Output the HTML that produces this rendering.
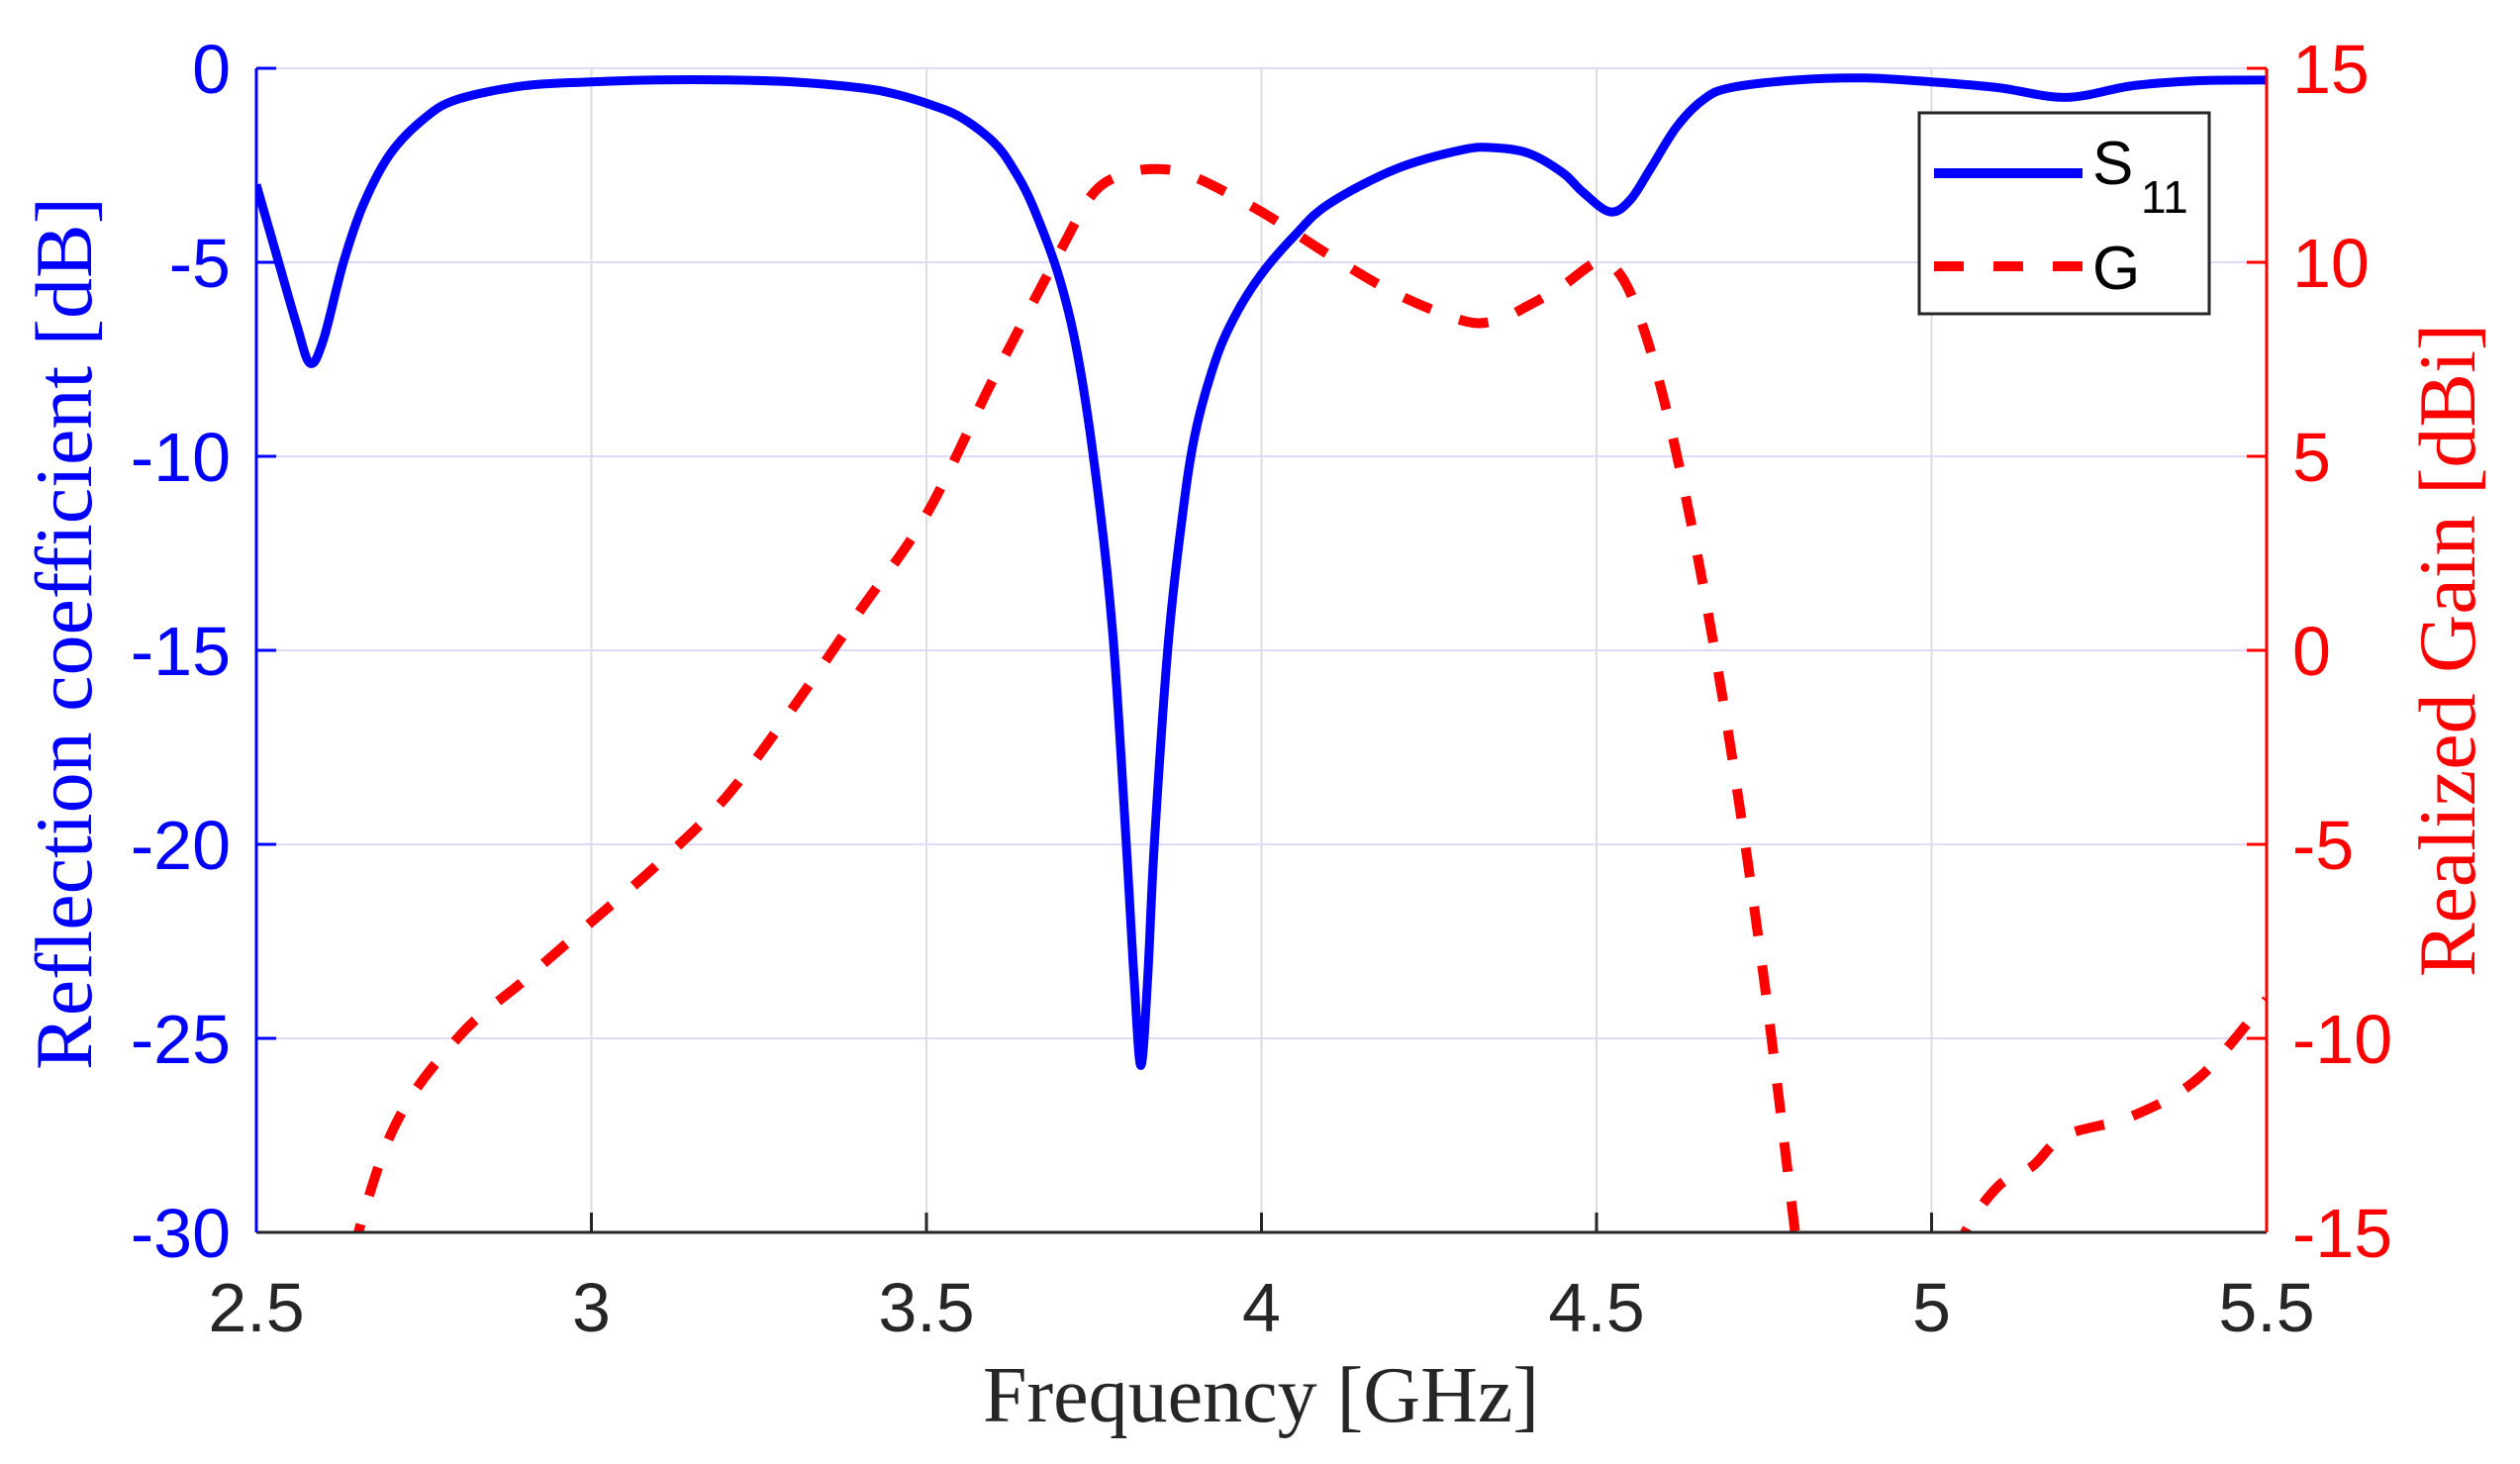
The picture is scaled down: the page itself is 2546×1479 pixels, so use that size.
<!DOCTYPE html>
<html><head><meta charset="utf-8"><style>
html,body{margin:0;padding:0;background:#fff;}
svg{display:block;}
</style></head><body>
<svg id="chart" width="2546" height="1479" viewBox="0 0 2546 1479" xmlns="http://www.w3.org/2000/svg">
<defs><clipPath id="plotclip"><rect x="259" y="69" width="2031" height="1176"/></clipPath></defs>
<g id="grid"></g>
<g id="series" clip-path="url(#plotclip)"></g>
<g id="axes"></g>
<text x="1274" y="1436" text-anchor="middle" font-family="Liberation Serif, serif" font-size="80" fill="#262626">Frequency [GHz]</text>
<text transform="translate(92,640) rotate(-90)" text-anchor="middle" font-family="Liberation Serif, serif" font-size="82" fill="#0000ff">Reflection coefficient [dB]</text>
<text transform="translate(2500,657) rotate(-90)" text-anchor="middle" font-family="Liberation Serif, serif" font-size="82" fill="#ff0000">Realized Gain [dBi]</text>
<g>
<rect x="1939" y="114" width="293" height="203" fill="#fff" stroke="#262626" stroke-width="3"/>
<line x1="1954" y1="175" x2="2104" y2="175" stroke="#0000ff" stroke-width="10"/>
<text x="2114" y="186" font-family="Liberation Sans, sans-serif" font-size="62" fill="#000">S</text>
<text x="2163" y="215" font-family="Liberation Sans, sans-serif" font-size="46" fill="#000">11</text>
<line x1="1954" y1="269" x2="2104" y2="269" stroke="#ff0000" stroke-width="10" stroke-dasharray="30,30"/>
<text x="2114" y="292" font-family="Liberation Sans, sans-serif" font-size="62" fill="#000">G</text>
</g>
</svg>
<script>
const freqS = [2.5,2.53,2.56,2.58,2.6,2.63,2.66,2.7,2.75,2.8,2.9,3.0,3.1,3.2,3.3,3.4,3.45,3.5,3.55,3.6,3.63,3.66,3.7,3.73,3.76,3.78,3.8,3.81,3.82,3.83,3.84,3.86,3.88,3.9,3.93,3.96,4.0,4.05,4.1,4.2,4.3,4.35,4.4,4.45,4.48,4.52,4.55,4.58,4.62,4.66,4.7,4.8,4.9,5.0,5.1,5.2,5.3,5.4,5.5];
const s11 = [-3,-4.8,-6.6,-7.6,-7.0,-5.0,-3.5,-2.2,-1.3,-0.8,-0.45,-0.35,-0.3,-0.3,-0.35,-0.5,-0.65,-0.9,-1.25,-1.9,-2.6,-3.6,-5.5,-7.8,-11.5,-15,-20.5,-23.5,-25.7,-23.5,-20,-15,-11.8,-9.5,-7.6,-6.4,-5.3,-4.3,-3.5,-2.6,-2.1,-2.05,-2.2,-2.7,-3.2,-3.7,-3.4,-2.6,-1.5,-0.8,-0.5,-0.3,-0.25,-0.35,-0.5,-0.75,-0.45,-0.32,-0.3];
const freqG = [2.62,2.7,2.8,2.9,3.0,3.1,3.2,3.3,3.4,3.5,3.6,3.7,3.75,3.8,3.85,3.9,4.0,4.1,4.2,4.3,4.35,4.4,4.45,4.5,4.53,4.56,4.6,4.65,4.7,4.75,4.8,4.82,null,5.0,5.05,5.1,5.15,5.2,5.3,5.4,5.5];
const gain = [-17,-12.5,-10,-8.5,-7,-5.5,-3.8,-1.5,1,3.5,7,10.3,11.8,12.3,12.4,12.2,11.3,10.2,9.2,8.5,8.5,8.9,9.4,10,9.8,8.8,6.5,2.5,-2.5,-8.5,-15.5,-18,null,-17,-15,-13.8,-13.3,-12.5,-12,-11,-9];
const xTicks = [2.5,3,3.5,4,4.5,5,5.5];
const xTickLabels = ["2.5","3","3.5","4","4.5","5","5.5"];
const yLeftTicks = [0,-5,-10,-15,-20,-25,-30];
const yLeftLabels = ["0","-5","-10","-15","-20","-25","-30"];
const yRightTicks = [15,10,5,0,-5,-10,-15];
const yRightLabels = ["15","10","5","0","-5","-10","-15"];

const L=259,R=2290,T=69,B=1245;
const xs=f=>L+(f-2.5)/3*(R-L);
const yl=v=>T+(0-v)/30*(B-T);
const yr=v=>T+(15-v)/30*(B-T);
const NS="http://www.w3.org/2000/svg";
function mk(tag,attrs,parent){const e=document.createElementNS(NS,tag);for(const k in attrs)e.setAttribute(k,attrs[k]);parent.appendChild(e);return e;}
function smooth(pts){
  if(pts.length<2)return '';
  let d='M'+pts[0][0].toFixed(1)+','+pts[0][1].toFixed(1);
  for(let i=0;i<pts.length-1;i++){
    const p0=pts[i-1]||pts[i],p1=pts[i],p2=pts[i+1],p3=pts[i+2]||p2;
    const c1x=p1[0]+(p2[0]-p0[0])/6,c1y=p1[1]+(p2[1]-p0[1])/6;
    const c2x=p2[0]-(p3[0]-p1[0])/6,c2y=p2[1]-(p3[1]-p1[1])/6;
    d+='C'+c1x.toFixed(1)+','+c1y.toFixed(1)+' '+c2x.toFixed(1)+','+c2y.toFixed(1)+' '+p2[0].toFixed(1)+','+p2[1].toFixed(1);
  }
  return d;
}
const grid=document.getElementById('grid'),series=document.getElementById('series'),axes=document.getElementById('axes');
xTicks.forEach((t,i)=>{
  const g=mk('line',{x1:xs(t),x2:xs(t),y1:T,y2:B,stroke:'#dcdcdc','stroke-width':2},grid);
  
  
  const tk=mk('line',{x1:xs(t),x2:xs(t),y1:B,y2:B-20,stroke:'#262626','stroke-width':3},axes);
  
  
  const tx=mk('text',{x:xs(t),y:B+100,'text-anchor':'middle','font-family':'Liberation Sans, sans-serif','font-size':70,fill:'#262626'},axes);
  tx.textContent=xTickLabels[i];
  
  
});
yLeftTicks.forEach((t,i)=>{
  const g=mk('line',{x1:L,x2:R,y1:yl(t),y2:yl(t),stroke:'#dcdcf8','stroke-width':2},grid);
  
  
  const tk=mk('line',{x1:L,x2:L+20,y1:yl(t),y2:yl(t),stroke:'#0000ff','stroke-width':3},axes);
  
  
  const tx=mk('text',{x:L-26,y:yl(t)+25,'text-anchor':'end','font-family':'Liberation Sans, sans-serif','font-size':70,fill:'#0000ff'},axes);
  tx.textContent=yLeftLabels[i];
  
  
});
yRightTicks.forEach((t,i)=>{
  const tk=mk('line',{x1:R-20,x2:R,y1:yr(t),y2:yr(t),stroke:'#ff0000','stroke-width':3},axes);
  
  
  const tx=mk('text',{x:R+26,y:yr(t)+25,'text-anchor':'start','font-family':'Liberation Sans, sans-serif','font-size':70,fill:'#ff0000'},axes);
  tx.textContent=yRightLabels[i];
  
  
});
const xa=mk('line',{x1:L,x2:R,y1:B,y2:B,stroke:'#262626','stroke-width':3},axes);


const la=mk('line',{x1:L,x2:L,y1:T,y2:B,stroke:'#0000ff','stroke-width':3},axes);


const ra=mk('line',{x1:R,x2:R,y1:T,y2:B,stroke:'#ff0000','stroke-width':3},axes);



const ptsS=freqS.map((f,i)=>[xs(f),yl(s11[i])]);
const p1=mk('path',{d:smooth(ptsS),fill:'none',stroke:'#0000ff','stroke-width':9,'stroke-linejoin':'round'},series);


let segs=[[]];freqG.forEach((f,i)=>{if(f===null||gain[i]===null){segs.push([]);return;}segs[segs.length-1].push([xs(f),yr(gain[i])]);});
const d2=segs.map(smooth).join('');
const p2=mk('path',{d:d2,fill:'none',stroke:'#ff0000','stroke-width':10,'stroke-dasharray':'30,30'},series);


</script>
</body></html>
